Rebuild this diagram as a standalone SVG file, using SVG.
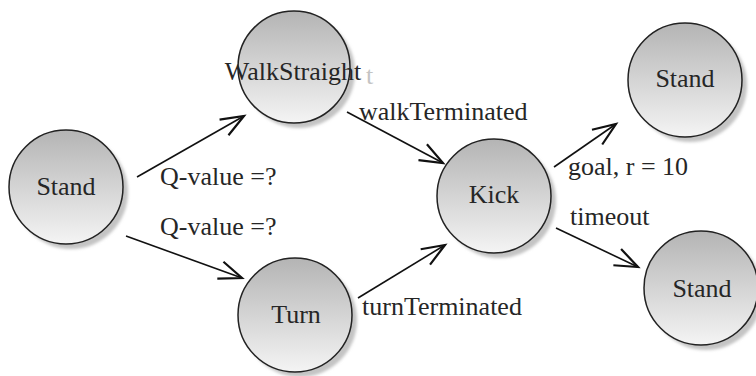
<svg xmlns="http://www.w3.org/2000/svg" width="756" height="376" viewBox="0 0 756 376">
<defs>
<linearGradient id="g" x1="0" y1="0" x2="0" y2="1">
<stop offset="0" stop-color="#b4b4b4"/>
<stop offset="1" stop-color="#f4f4f4"/>
</linearGradient>
<filter id="blur" x="-20%" y="-20%" width="140%" height="140%"><feGaussianBlur stdDeviation="1.5"/></filter>
<marker id="arr" markerUnits="userSpaceOnUse" markerWidth="30" markerHeight="24" refX="0" refY="0" viewBox="-24 -12 28 24" orient="auto" overflow="visible">
<path d="M-23,-9 L0,0 L-23,9" fill="none" stroke="#111" stroke-width="2.2"/>
</marker>
</defs>
<style>
.node circle.c{fill:url(#g);stroke:#222;stroke-width:1.5}
.node circle.s{fill:#c4c4c4;filter:url(#blur)}
text{font-family:"Liberation Serif","Times New Roman",serif;font-size:26px;fill:#262626}
.node text{text-anchor:middle}
.edges line{stroke:#111;stroke-width:1.6;marker-end:url(#arr)}
.ghost{fill:#c4c4c4}
</style>
<rect width="756" height="376" fill="#fff"/>
<g class="edges">
<line x1="137" y1="177" x2="244" y2="116"/>
<line x1="126" y1="236" x2="242" y2="278"/>
<line x1="347" y1="112" x2="443" y2="163"/>
<line x1="358" y1="298" x2="445" y2="245"/>
<line x1="554" y1="167" x2="616" y2="124"/>
<line x1="556" y1="228" x2="638" y2="267"/>
</g>
<g class="labels">
<text x="160" y="185">Q-value =?</text>
<text x="160" y="235">Q-value =?</text>
<text x="359" y="120">walkTerminated</text>
<text x="362" y="315">turnTerminated</text>
<text x="568" y="175">goal, r = 10</text>
<text x="570" y="225">timeout</text>
</g>
<text class="ghost" x="366" y="84">t</text>
<g id="stand0" class="node"><circle class="s" cx="71" cy="192" r="57"/><circle class="c" cx="66" cy="187" r="57"/><text x="66" y="195">Stand</text></g>
<g id="walk" class="node"><circle class="s" cx="299" cy="72" r="56"/><circle class="c" cx="294" cy="67" r="56"/><text x="293" y="80">WalkStraight</text></g>
<g id="turn" class="node"><circle class="s" cx="300" cy="320" r="57"/><circle class="c" cx="295" cy="315" r="57"/><text x="296" y="323">Turn</text></g>
<g id="kick" class="node"><circle class="s" cx="499" cy="201" r="57"/><circle class="c" cx="494" cy="196" r="57"/><text x="494" y="203">Kick</text></g>
<g id="stand1" class="node"><circle class="s" cx="690" cy="85" r="57"/><circle class="c" cx="685" cy="80" r="57"/><text x="685" y="87">Stand</text></g>
<g id="stand2" class="node"><circle class="s" cx="706" cy="293" r="57"/><circle class="c" cx="701" cy="288" r="57"/><text x="702" y="297">Stand</text></g>
</svg>
